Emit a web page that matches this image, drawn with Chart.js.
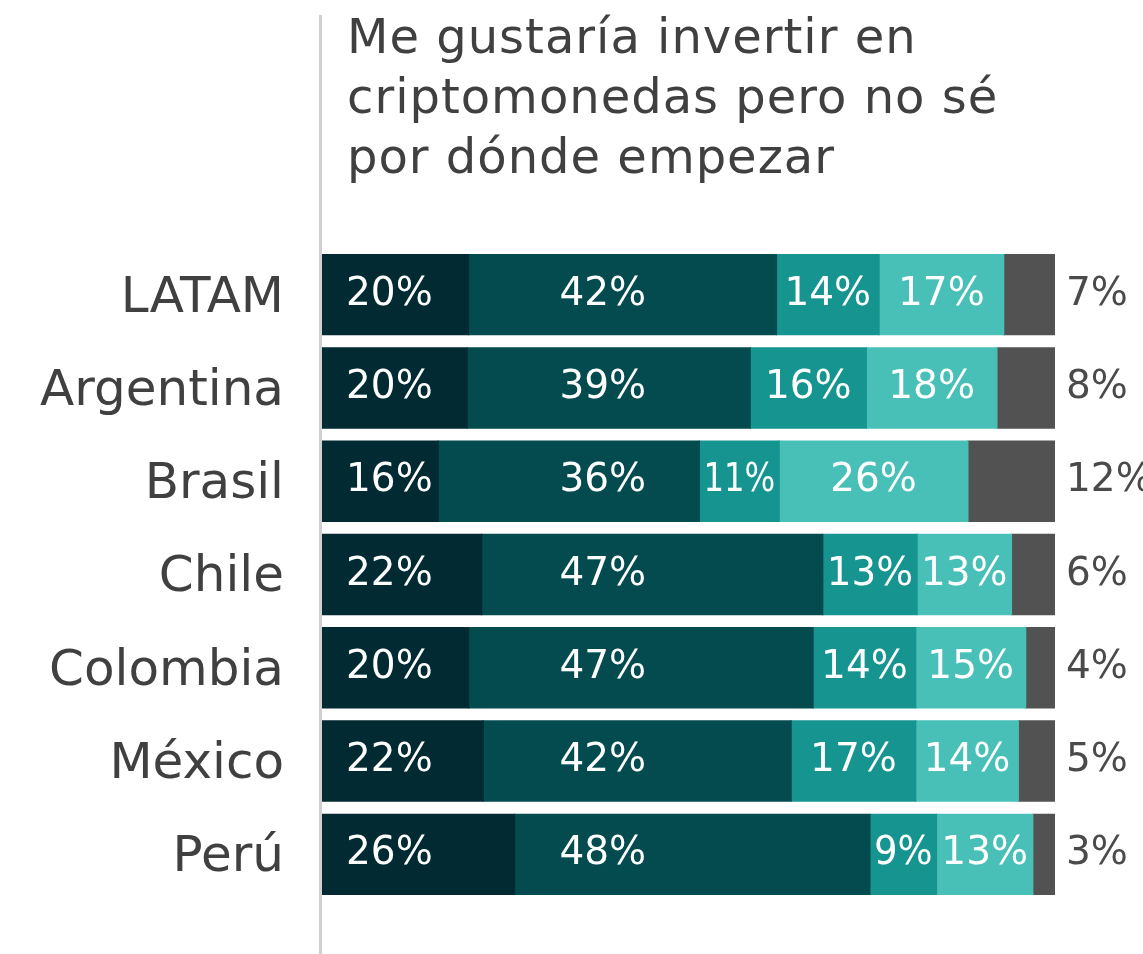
<!DOCTYPE html>
<html>
<head>
<meta charset="utf-8">
<script src="https://cdn.jsdelivr.net/npm/chart.js@4"></script>
<style>
  html, body { margin: 0; padding: 0; background: #ffffff; }
  #wrap { width: 1143px; height: 954px; position: relative; }
</style>
</head>
<body>
<div id="wrap"><canvas id="barChart"></canvas></div>
<script>
// categories and answer shares (%)
const countries = ['LATAM', 'Argentina', 'Brasil', 'Chile', 'Colombia', 'México', 'Perú'];
const share1 = [20, 20, 16, 22, 20, 22, 26];
const share2 = [42, 39, 36, 47, 47, 42, 48];
const share3 = [14, 16, 11, 13, 14, 17, 9];
const share4 = [17, 18, 26, 13, 15, 14, 13];
const share5 = [7, 8, 12, 6, 4, 5, 3];

const titleLines = ['Me gustaría invertir en', 'criptomonedas pero no sé', 'por dónde empezar'];
const segColors = ['#012a32', '#034b4f', '#169490', '#48c0b8', '#525252'];
const FONT = '"DejaVu Sans", sans-serif';

const rawSeries = [share1, share2, share3, share4, share5];
// each row is drawn as a full 100% bar
const rowTotals = countries.map((c, i) => rawSeries.reduce((s, arr) => s + arr[i], 0));

const datasets = rawSeries.map((arr, k) => ({
    label: 'seg' + k,
    data: arr.map((v, i) => v / rowTotals[i] * 100),
    raw: arr,
    backgroundColor: segColors[k],
    borderWidth: 0,
    inflateAmount: 0.6,
    barPercentage: 0.86,
    categoryPercentage: 1
}));

// draw text, squeezing it sideways when the segment is too narrow
function fitText(ctx, txt, cx, cy, maxW) {
    const w = ctx.measureText(txt).width;
    const s = Math.min(1, maxW / w);
    ctx.save();
    ctx.translate(cx, cy);
    ctx.scale(s, 1);
    ctx.fillText(txt, 0, 0);
    ctx.restore();
}

const labelPlugin = {
    id: 'segLabels',
    afterDatasetsDraw(chart) {
        const ctx = chart.ctx;
        const xs = chart.scales.x;
        ctx.save();
        ctx.textBaseline = 'middle';
        ctx.font = '39px ' + FONT;
        chart.data.datasets.forEach((ds, k) => {
            const meta = chart.getDatasetMeta(k);
            meta.data.forEach((bar, i) => {
                const txt = ds.raw[i] + '%';
                const left = bar.base;
                const right = bar.x;
                const y = bar.y;
                if (k === 4) {
                    ctx.fillStyle = '#4a4a4a';
                    ctx.textAlign = 'left';
                    ctx.fillText(txt, xs.right + 11, y);
                    return;
                }
                ctx.fillStyle = '#ffffff';
                if (k === 0) {
                    ctx.textAlign = 'left';
                    ctx.fillText(txt, left + 24, y);
                } else if (k === 1) {
                    ctx.textAlign = 'center';
                    ctx.fillText(txt, xs.getPixelForValue(38.3), y);
                } else {
                    ctx.textAlign = 'center';
                    fitText(ctx, txt, (left + right) / 2, y, right - left - 8);
                }
            });
        });
        ctx.restore();
    }
};

const framePlugin = {
    id: 'frame',
    beforeDatasetsDraw(chart) {
        const ctx = chart.ctx;
        const a = chart.chartArea;
        ctx.save();
        ctx.strokeStyle = '#d0d0d0';
        ctx.lineWidth = 3;
        ctx.beginPath();
        ctx.moveTo(a.left - 1.5, 15);
        ctx.lineTo(a.left - 1.5, chart.height);
        ctx.stroke();
        ctx.fillStyle = '#404040';
        ctx.font = '48px ' + FONT;
        ctx.letterSpacing = '1px';
        ctx.textAlign = 'left';
        ctx.textBaseline = 'alphabetic';
        titleLines.forEach((t, n) => ctx.fillText(t, a.left + 25, 53 + n * 60));
        ctx.restore();
    }
};

new Chart(document.getElementById('barChart'), {
    type: 'bar',
    data: { labels: countries, datasets: datasets },
    options: {
        indexAxis: 'y',
        responsive: true,
        maintainAspectRatio: false,
        animation: false,
        layout: { padding: { top: 248, right: 88, bottom: 53, left: 0 } },
        plugins: {
            legend: { display: false },
            tooltip: { enabled: false },
            title: { display: false }
        },
        scales: {
            x: {
                stacked: true,
                min: 0,
                max: 100,
                display: false
            },
            y: {
                stacked: true,
                grid: { display: false },
                border: { display: false },
                ticks: {
                    color: '#404040',
                    padding: 30,
                    labelOffset: 4,
                    font: { family: FONT, size: 50 }
                },
                afterFit(scale) {
                    scale.width = 322;
                    scale.paddingTop = 0;
                    scale.paddingBottom = 0;
                }
            }
        }
    },
    plugins: [framePlugin, labelPlugin]
});
</script>
</body>
</html>
